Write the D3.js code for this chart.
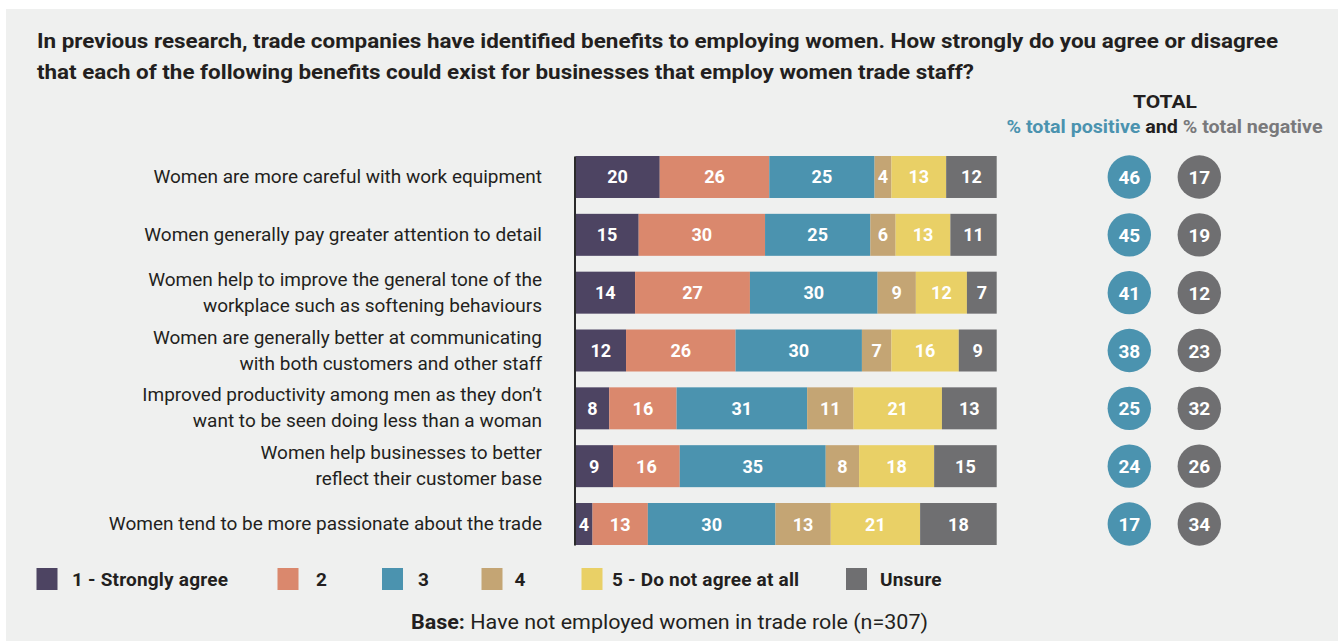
<!DOCTYPE html>
<html>
<head>
<meta charset="utf-8">
<script src="https://cdn.jsdelivr.net/npm/d3@7"></script>
<style>
  html, body { margin: 0; padding: 0; background: #ffffff; }
  svg { display: block; }
  text { font-family: Roboto, "Liberation Sans", sans-serif; }
</style>
</head>
<body>
<svg id="chart" width="1344" height="641"></svg>
<script>
// Statements (line breaks mark the wrapped label lines)
const categories = [
  "Women are more careful with work equipment",
  "Women generally pay greater attention to detail",
  "Women help to improve the general tone of the\nworkplace such as softening behaviours",
  "Women are generally better at communicating\nwith both customers and other staff",
  "Improved productivity among men as they don\u2019t\nwant to be seen doing less than a woman",
  "Women help businesses to better\nreflect their customer base",
  "Women tend to be more passionate about the trade"
];

// Response scale
const seriesNames = ["1 - Strongly agree", "2", "3", "4", "5 - Do not agree at all", "Unsure"];
const seriesColors = ["#4d4462", "#da886d", "#4b93af", "#c4a574", "#e9d066", "#6f6f71"];

// Percentages per response, one entry per statement
const stronglyAgree = [20, 15, 14, 12, 8, 9, 4];
const score2        = [26, 30, 27, 26, 16, 16, 13];
const score3        = [25, 25, 30, 30, 31, 35, 30];
const score4        = [4, 6, 9, 7, 11, 8, 13];
const doNotAgree    = [13, 13, 12, 16, 21, 18, 21];
const unsure        = [12, 11, 7, 9, 13, 15, 18];

// Totals shown in the circles
const totalPositive = [46, 45, 41, 38, 25, 24, 17];
const totalNegative = [17, 19, 12, 23, 32, 26, 34];

const titleLines = [
  "In previous research, trade companies have identified benefits to employing women. How strongly do you agree or disagree",
  "that each of the following benefits could exist for businesses that employ women trade staff?"
];

const seriesValues = [stronglyAgree, score2, score3, score4, doNotAgree, unsure];
const table = categories.map((c, i) => {
  const row = { category: c };
  seriesNames.forEach((s, j) => { row[s] = seriesValues[j][i]; });
  return row;
});

const svg = d3.select("#chart");
const ink = "#231f20";

// Panel background
svg.append("rect").attr("x", 6).attr("y", 9).attr("width", 1332).attr("height", 632).attr("fill", "#eff0ef");

// Title
const titleWidths = [1241, 937];
svg.append("g").selectAll("text").data(titleLines).join("text")
  .attr("x", 37).attr("y", (d, i) => 48 + i * 31)
  .attr("font-size", 21).attr("font-weight", 700).attr("fill", ink)
  .attr("textLength", (d, i) => titleWidths[i]).attr("lengthAdjust", "spacingAndGlyphs")
  .text(d => d);

// Scales
const x = d3.scaleLinear().domain([0, 1]).range([575.5, 996.7]);
const y = d3.scaleBand().domain(categories).range([156, 545]).paddingInner(0.274).paddingOuter(0);
const color = d3.scaleOrdinal().domain(seriesNames).range(seriesColors);

// Each bar fills the full width (shares of the row total)
const stacked = d3.stack().keys(seriesNames).offset(d3.stackOffsetExpand)(table);

const layers = svg.append("g").selectAll("g").data(stacked).join("g")
  .attr("fill", d => color(d.key));

layers.selectAll("rect").data(d => d).join("rect")
  .attr("x", d => x(d[0]))
  .attr("y", d => y(d.data.category))
  .attr("width", d => x(d[1]) - x(d[0]))
  .attr("height", y.bandwidth());

layers.selectAll("text").data(d => d.map(v => ({ v, key: d.key }))).join("text")
  .attr("x", d => (x(d.v[0]) + x(d.v[1])) / 2)
  .attr("y", d => y(d.v.data.category) + y.bandwidth() / 2 + 6.5)
  .attr("text-anchor", "middle")
  .attr("font-size", 18).attr("font-weight", 700).attr("fill", "#ffffff")
  .text(d => d.v.data[d.key]);

// Vertical baseline
const axis = d3.axisLeft(y).tickSize(0).tickSizeOuter(0).tickFormat("");
svg.append("g").attr("transform", "translate(574.5,0)").call(axis)
  .call(g => g.select(".domain").attr("stroke", "#2a2a2a").attr("stroke-width", 2));

// Statement labels (right aligned, wrapped)
const labels = svg.append("g").selectAll("text").data(categories).join("text")
  .attr("text-anchor", "end")
  .attr("font-size", 19).attr("fill", ink);
labels.each(function (d) {
  const lines = d.split("\n");
  const cy = y(d) + y.bandwidth() / 2;
  const lh = 26;
  const top = cy + 6 - (lines.length - 1) * lh / 2;
  d3.select(this).selectAll("tspan").data(lines).join("tspan")
    .attr("x", 542).attr("y", (l, i) => top + i * lh).text(l => l);
});

// Totals header
svg.append("text").attr("x", 1165).attr("y", 108).attr("text-anchor", "middle")
  .attr("font-size", 18).attr("font-weight", 700).attr("fill", ink)
  .attr("textLength", 64).attr("lengthAdjust", "spacingAndGlyphs").text("TOTAL");
const sub = svg.append("text").attr("x", 1006.5).attr("y", 133)
  .attr("font-size", 18).attr("font-weight", 700)
  .attr("textLength", 316).attr("lengthAdjust", "spacingAndGlyphs");
sub.append("tspan").attr("fill", "#4b93af").text("% total positive");
sub.append("tspan").attr("fill", ink).text(" and ");
sub.append("tspan").attr("fill", "#79797b").text("% total negative");

// Total circles
const circleCols = [
  { values: totalPositive, cx: 1129.3, fill: "#4b93af" },
  { values: totalNegative, cx: 1199.3, fill: "#6f6f71" }
];
circleCols.forEach(col => {
  const g = svg.append("g");
  g.selectAll("circle").data(col.values).join("circle")
    .attr("cx", col.cx)
    .attr("cy", (v, i) => y(categories[i]) + y.bandwidth() / 2)
    .attr("r", 21.7).attr("fill", col.fill);
  g.selectAll("text").data(col.values).join("text")
    .attr("x", col.cx)
    .attr("y", (v, i) => y(categories[i]) + y.bandwidth() / 2 + 7)
    .attr("text-anchor", "middle")
    .attr("font-size", 19).attr("font-weight", 700).attr("fill", "#ffffff")
    .text(v => v);
});

// Legend
const legendX = [36.5, 277.5, 382, 481.5, 581.5, 846];
const legendTextDx = [35.5, 38.5, 36, 33, 30.5, 34];
const legend = svg.append("g").selectAll("g").data(seriesNames).join("g")
  .attr("transform", (d, i) => `translate(${legendX[i]},568)`);
legend.append("rect").attr("width", 21).attr("height", 22).attr("fill", d => color(d));
legend.append("text").attr("x", (d, i) => legendTextDx[i])
  .attr("y", 18).attr("font-size", 19).attr("font-weight", 700).attr("fill", ink)
  .attr("letter-spacing", 0.2)
  .text(d => d);

// Base note
const base = svg.append("text").attr("x", 411).attr("y", 629)
  .attr("font-size", 20).attr("fill", ink)
  .attr("textLength", 517).attr("lengthAdjust", "spacingAndGlyphs");
base.append("tspan").attr("font-weight", 700).text("Base:");
base.append("tspan").text(" Have not employed women in trade role (n=307)");
</script>
</body>
</html>
